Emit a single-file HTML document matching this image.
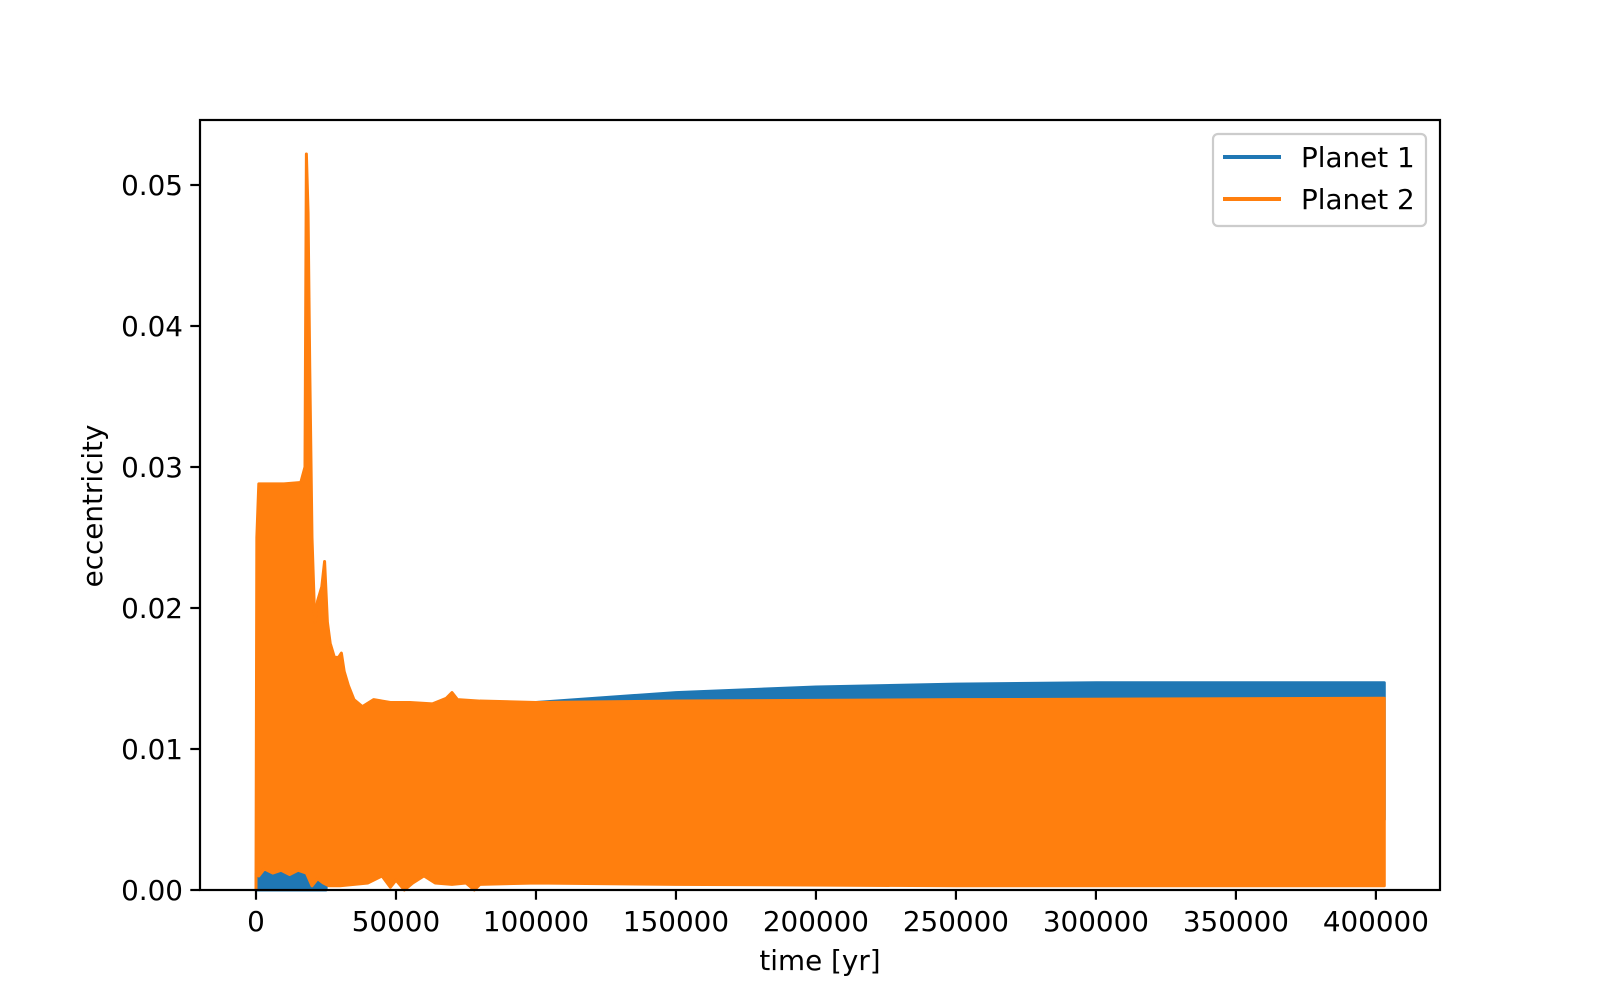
<!DOCTYPE html>
<html><head><meta charset="utf-8"><style>
html,body{margin:0;padding:0;background:#fff;}
svg{display:block;font-family:"DejaVu Sans","Liberation Sans",sans-serif;}
</style></head><body>
<svg id="chart" width="1600" height="1000" viewBox="0 0 1600 1000" xmlns="http://www.w3.org/2000/svg">
<rect x="0" y="0" width="1600" height="1000" fill="#fff"/>
<g id="plot"></g>
<g id="axes"></g>
<text x="820" y="970" font-size="27.8" text-anchor="middle">time [yr]</text>
<text x="0" y="0" font-size="27.8" text-anchor="middle" transform="translate(102,506) rotate(-90)">eccentricity</text>
<g>
<rect x="1213" y="134" width="213" height="92" rx="5" fill="#fff" fill-opacity="0.8" stroke="#ccc" stroke-width="2.2"/>
<line x1="1223" y1="157" x2="1281" y2="157" stroke="#1f77b4" stroke-width="4"/>
<text x="1301" y="167" font-size="27.8">Planet 1</text>
<line x1="1223" y1="199" x2="1281" y2="199" stroke="#ff7f0e" stroke-width="4"/>
<text x="1301" y="209" font-size="27.8">Planet 2</text>
</g>
</svg>
<script>
const xTicks = [0,50000,100000,150000,200000,250000,300000,350000,400000];
const yTicks = [0,0.01,0.02,0.03,0.04,0.05];
const yTickLabels = ["0.00","0.01","0.02","0.03","0.04","0.05"];
const p1Time  = [0,500,20000,24000,25000,100000,150000,200000,250000,300000,403000];
const p1Upper = [0,0.0012,0.0016,0.0014,0.0015,0.0133,0.0140,0.0144,0.0146,0.0147,0.0147];
const p1LowTime = [0,25000,27000,403000];
const p1Lower   = [0,0,0.005,0.005];
const p2Time  = [0,300,1000,5000,10000,16000,17500,18000,18600,19200,20000,21000,22000,23500,24500,25500,26500,28000,29500,30500,31500,33000,35000,38000,42000,48000,55000,63000,68000,70000,72000,80000,100000,150000,250000,403000];
const p2Upper = [0,0.0250,0.0288,0.0288,0.0288,0.0289,0.0300,0.0522,0.0480,0.0370,0.0250,0.0190,0.0205,0.0215,0.0233,0.0190,0.0175,0.0165,0.0165,0.0168,0.0155,0.0145,0.0135,0.0130,0.0135,0.0133,0.0133,0.0132,0.0136,0.0140,0.0135,0.0134,0.0133,0.0134,0.0135,0.0136];
const p2LowTime = [0,1000,3000,6000,9000,12000,15000,18000,20000,22000,24000,26000,30000,40000,45000,48000,50000,53000,56000,60000,64000,70000,75000,78000,80000,100000,150000,250000,403000];
const p2Lower   = [0.0012,0.0010,0.0015,0.0012,0.0014,0.0011,0.0014,0.0012,0.0003,0.0008,0.0005,0.0003,0.0003,0.0005,0.0010,0.0002,0.0007,0.0000,0.0005,0.0010,0.0005,0.0004,0.0005,0.0000,0.0004,0.0005,0.0004,0.0003,0.0003];
const XMIN=-20000, XMAX=422900, YMIN=0, YMAX=0.05461;
const L=200,R=1440,T=120,B=890;
function xs(v){return L+(v-XMIN)/(XMAX-XMIN)*(R-L);}
function ys(v){return B-(v-YMIN)/(YMAX-YMIN)*(B-T);}
const NS="http://www.w3.org/2000/svg";
const plot=document.getElementById('plot'), axes=document.getElementById('axes');
function band(tu,up,tl,lo,color,name){
  let pts=tu.map((t,i)=>xs(t)+','+ys(up[i]));
  for(let i=tl.length-1;i>=0;i--) pts.push(xs(tl[i])+','+ys(lo[i]));
  const p=document.createElementNS(NS,'polygon');
  p.setAttribute('points',pts.join(' '));
  p.setAttribute('fill',color);p.setAttribute('stroke',color);p.setAttribute('stroke-width','3');p.setAttribute('stroke-linejoin','round');
  
  
  plot.appendChild(p);
}
band(p1Time,p1Upper,p1LowTime,p1Lower,'#1f77b4','planet-1-series');
band(p2Time,p2Upper,p2LowTime,p2Lower,'#ff7f0e','planet-2-series');
const frame=document.createElementNS(NS,'rect');
frame.setAttribute('x',L);frame.setAttribute('y',T);frame.setAttribute('width',R-L);frame.setAttribute('height',B-T);
frame.setAttribute('fill','none');frame.setAttribute('stroke','#000');frame.setAttribute('stroke-width','2.2');


axes.appendChild(frame);
xTicks.forEach(v=>{
  const x=xs(v);
  const l=document.createElementNS(NS,'line');
  l.setAttribute('x1',x);l.setAttribute('x2',x);l.setAttribute('y1',B);l.setAttribute('y2',B+9.7);
  l.setAttribute('stroke','#000');l.setAttribute('stroke-width','2.2');
  
  
  axes.appendChild(l);
  const t=document.createElementNS(NS,'text');
  t.setAttribute('x',x);t.setAttribute('y',B+41);t.setAttribute('font-size','27.8');t.setAttribute('text-anchor','middle');
  t.textContent=String(v);
  
  
  axes.appendChild(t);
});
yTicks.forEach((v,i)=>{
  const y=ys(v);
  const l=document.createElementNS(NS,'line');
  l.setAttribute('x1',L-9.7);l.setAttribute('x2',L);l.setAttribute('y1',y);l.setAttribute('y2',y);
  l.setAttribute('stroke','#000');l.setAttribute('stroke-width','2.2');
  
  
  axes.appendChild(l);
  const t=document.createElementNS(NS,'text');
  t.setAttribute('x',L-17);t.setAttribute('y',y+10);t.setAttribute('font-size','27.8');t.setAttribute('text-anchor','end');
  t.textContent=yTickLabels[i];
  
  
  axes.appendChild(t);
});
</script>
</body></html>
